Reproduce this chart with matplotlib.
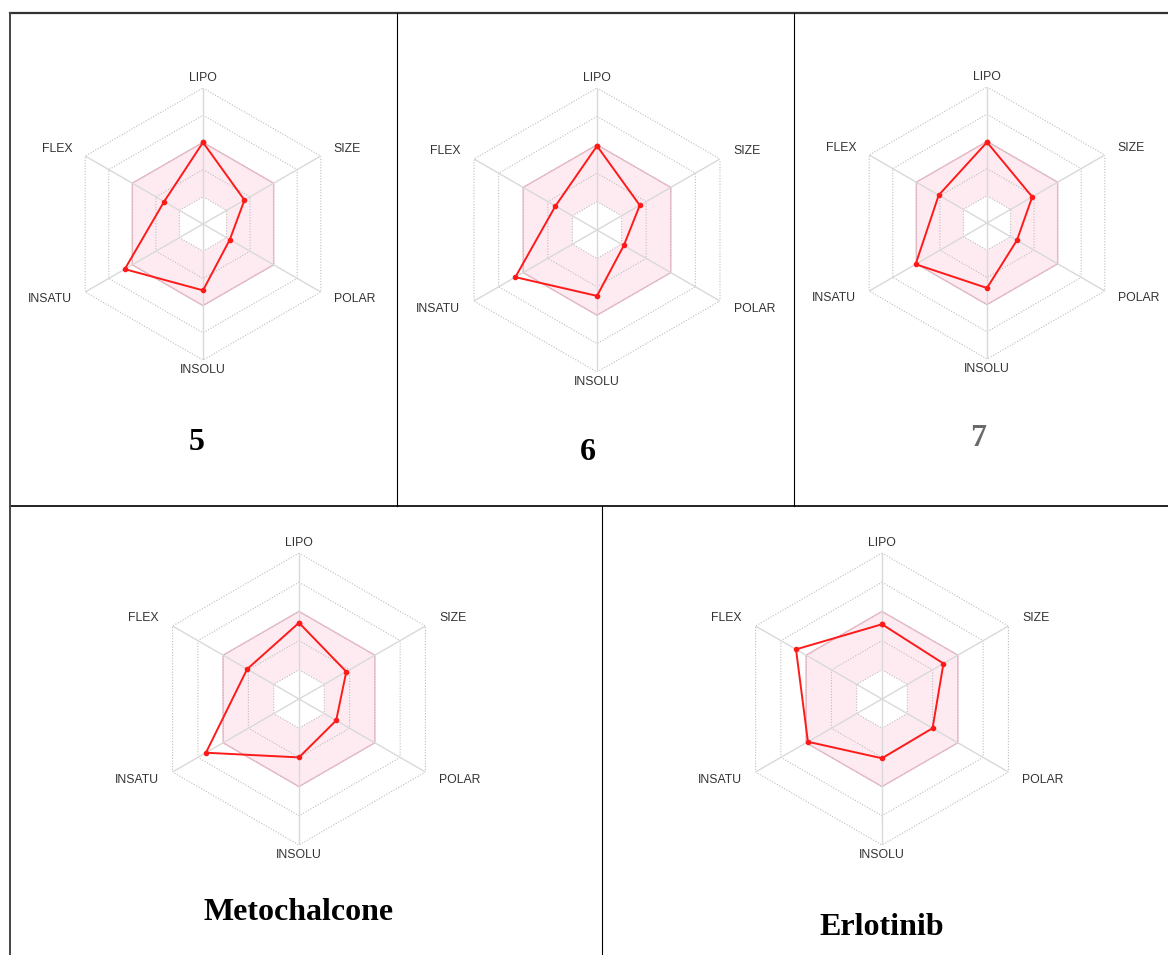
import numpy as np
import matplotlib
matplotlib.use("Agg")
import matplotlib.pyplot as plt
from matplotlib.lines import Line2D

# bioavailability radar descriptors (clockwise from top)
props = ["LIPO", "SIZE", "POLAR", "INSOLU", "INSATU", "FLEX"]

cmpd_5 = [3.0, 1.76, 1.14, 2.44, 3.32, 1.65]
cmpd_6 = [2.96, 1.74, 1.09, 2.32, 3.32, 1.69]
cmpd_7 = [2.97, 1.92, 1.27, 2.39, 3.03, 2.05]
metochalcone = [2.61, 1.87, 1.47, 2.0, 3.68, 2.05]
erlotinib = [2.56, 2.43, 2.0, 2.03, 2.93, 3.4]

names = ["5", "6", "7", "Metochalcone", "Erlotinib"]
values = [cmpd_5, cmpd_6, cmpd_7, metochalcone, erlotinib]

# optimal range band and number of rings
band_lo, band_hi = 1, 3
n_rings = 5

W, H = 1168, 955
fig = plt.figure(figsize=(W / 100, H / 100), dpi=100)

# (center x, center y, outer radius) in pixels, title (x, y, colour)
cells = [
    ((203, 224, 136), (197, 442, "black")),
    ((597, 230, 142), (588, 452, "black")),
    ((987, 223, 136), (978, 438, "#6a6a6a")),
    ((299, 699, 146), (299, 912, "black")),
    ((882, 699, 146), (882, 927, "black")),
]

theta = np.deg2rad(np.arange(0, 360, 60))
theta_c = np.append(theta, theta[0])


def radar(ax, vals):
    ax.set_theta_offset(np.pi / 2)
    ax.set_theta_direction(-1)
    ax.set_ylim(0, n_rings)
    ax.grid(False)
    ax.set_xticks([])
    ax.set_yticks([])
    ax.spines["polar"].set_visible(False)
    ax.patch.set_alpha(0)

    # pink band between ring 1 and ring 3
    band_t = np.concatenate([theta_c, theta_c[::-1]])
    band_r = np.concatenate([np.full(7, band_hi), np.full(7, band_lo)])
    ax.fill(band_t, band_r, color="#fdebf1", lw=0, zorder=1)
    ax.plot(theta_c, np.full(7, band_hi), color="#f2b8c6", lw=1, zorder=2)

    # hexagonal rings and spokes
    for k in range(1, n_rings + 1):
        ax.plot(theta_c, np.full(7, k), color="#bdbdbd", lw=0.8,
                ls=(0, (1, 1.5)), zorder=2)
    for t in theta:
        ax.plot([t, t], [0, n_rings], color="#d9d9d9", lw=1, zorder=2)

    v = np.append(vals, vals[0])
    ax.plot(theta_c, v, color="#ff1a1a", lw=1.4, marker="o", ms=3,
            zorder=4)

    for t, lab in zip(theta, props):
        deg = np.rad2deg(t)
        if deg in (0, 180):
            ax.text(t, 5.35, lab, ha="center", va="center", fontsize=8.8,
                    color="#333333", family="Liberation Sans")
        else:
            ha = "left" if deg < 180 else "right"
            ax.text(t, 5.55, lab, ha=ha, va="center", fontsize=8.8,
                    color="#333333", family="Liberation Sans")


for (geo, ttl), name, vals in zip(cells, names, values):
    cx, cy, R = geo
    ax = fig.add_axes([(cx - R) / W, (H - cy - R) / H, 2 * R / W, 2 * R / H],
                      projection="polar")
    radar(ax, vals)
    tx, ty, col = ttl
    fig.text(tx / W, 1 - ty / H, name, ha="center", va="center",
             fontsize=23, fontweight="bold", family="Liberation Serif",
             color=col)

# table borders
def hline(y, x0, x1, lw=1.0, c="black"):
    fig.add_artist(Line2D([x0 / W, x1 / W], [1 - y / H, 1 - y / H],
                          color=c, lw=lw))


def vline(x, y0, y1, lw=1.0, c="black"):
    fig.add_artist(Line2D([x / W, x / W], [1 - y0 / H, 1 - y1 / H],
                          color=c, lw=lw))


hline(13, 10, W, lw=1.6, c="#333333")
hline(506, 10, W, lw=1.4, c="#222222")
vline(10, 13, H, lw=1.4, c="#444444")
vline(397, 13, 506, lw=0.8)
vline(794, 13, 506, lw=0.8)
vline(602, 506, H, lw=0.8)

fig.savefig("out.png", dpi=100, facecolor="white")
